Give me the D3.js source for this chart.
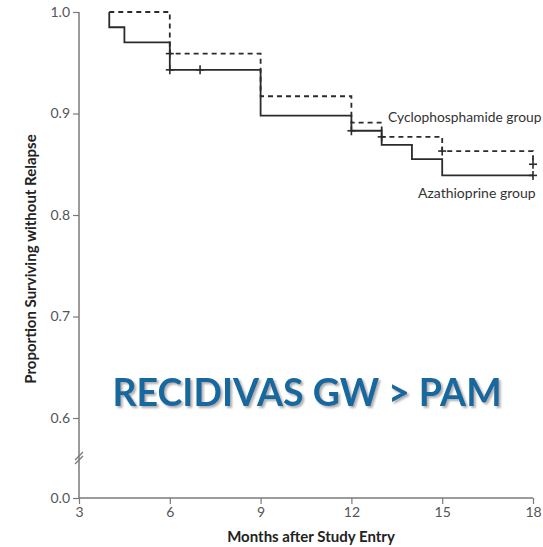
<!DOCTYPE html>
<html>
<head>
<meta charset="utf-8">
<script src="https://cdn.jsdelivr.net/npm/d3@7"></script>
<style>
  body { margin: 0; background: #fff; }
  svg text { font-family: Lato, "Open Sans", sans-serif; }
</style>
</head>
<body>
<div id="chart"></div>
<script>
// Kaplan-Meier step data (month of step, proportion after the step)
const azaMonths = [4, 4, 4.5, 6, 9, 12, 13, 14, 15, 18];
const azaValues = [1.0, 0.985, 0.970, 0.943, 0.898, 0.883, 0.869, 0.855, 0.839, 0.839];
const cycMonths = [4, 6, 9, 12, 13, 15, 18];
const cycValues = [1.0, 0.959, 0.917, 0.891, 0.877, 0.863, 0.850];

// censored observations
const azaCensorMonths = [6, 7, 12, 18];
const azaCensorValues = [0.943, 0.943, 0.883, 0.839];
const cycCensorMonths = [6, 13, 15, 18];
const cycCensorValues = [0.959, 0.877, 0.863, 0.850];

const xTicks = [3, 6, 9, 12, 15, 18];
const yTicks = [0.0, 0.6, 0.7, 0.8, 0.9, 1.0];

let width = 543;
let height = 547;

const svg = d3.select("#chart")
  .append("svg")
  .attr("width", width)
  .attr("height", height);

// soft shadow for the overlay title
svg.append("defs")
  .append("filter")
  .attr("id", "shadow")
  .attr("x", "-5%").attr("y", "-20%")
  .attr("width", "110%").attr("height", "140%")
  .append("feDropShadow")
  .attr("dx", 2).attr("dy", 2)
  .attr("stdDeviation", 0.8)
  .attr("flood-color", "#9a9a9a")
  .attr("flood-opacity", 0.8);

const x = d3.scaleLinear()
  .domain([3, 18])
  .range([79, 533]);

// broken axis: 0.0 sits below the break, 0.6-1.0 above it
const y = d3.scaleLinear()
  .domain([0, 0.6, 1.0])
  .range([498, 418, 12]);

const axisColor = "#7a7a7a";
const lineColor = "#2b2b2b";

// X axis
const xAxis = svg.append("g")
  .attr("transform", `translate(0, ${y(0)})`)
  .call(d3.axisBottom(x).tickValues(xTicks).tickSize(6).tickPadding(3).tickFormat(d3.format("d")));

// Y axis
const yAxis = svg.append("g")
  .attr("transform", `translate(${x(3)}, 0)`)
  .call(d3.axisLeft(y).tickValues(yTicks).tickSize(6).tickPadding(3).tickFormat(d3.format(".1f")));

[xAxis, yAxis].forEach(g => {
  g.select(".domain").attr("stroke", axisColor).attr("stroke-width", 1.5);
  g.selectAll(".tick line").attr("stroke", axisColor).attr("stroke-width", 1.2);
  g.selectAll(".tick text")
    .attr("fill", "#555")
    .style("font-size", "14px");
});
yAxis.select(".domain").attr("d", `M0,${y(1)}V${y(0)}`);
xAxis.select(".domain").attr("d", `M${x(3)},0H${x(18)}`);

// axis break marks
const breakY = (y(0) + y(0.6)) / 2;
[-2, 2].forEach(off => {
  svg.append("line")
    .attr("x1", x(3) - 4).attr("y1", breakY + off + 4)
    .attr("x2", x(3) + 4).attr("y2", breakY + off - 4)
    .attr("stroke", axisColor)
    .attr("stroke-width", 1.2);
});

// axis titles
svg.append("text")
  .attr("x", 311)
  .attr("y", 542)
  .attr("text-anchor", "middle")
  .attr("fill", "#222")
  .style("font-size", "15px")
  .style("font-weight", "bold")
  .text("Months after Study Entry");

svg.append("text")
  .attr("transform", "translate(36, 259) rotate(-90)")
  .attr("text-anchor", "middle")
  .attr("fill", "#222")
  .style("font-size", "15px")
  .style("font-weight", "bold")
  .text("Proportion Surviving without Relapse");

// step curves
const line = d3.line()
  .x(d => x(d[0]))
  .y(d => y(d[1]))
  .curve(d3.curveStepAfter);

svg.append("path")
  .datum(d3.zip(cycMonths, cycValues))
  .attr("fill", "none")
  .attr("stroke", lineColor)
  .attr("stroke-width", 1.8)
  .attr("stroke-dasharray", "5,4")
  .attr("d", line);

svg.append("path")
  .datum(d3.zip(azaMonths, azaValues))
  .attr("fill", "none")
  .attr("stroke", lineColor)
  .attr("stroke-width", 1.8)
  .attr("d", line);

// censor marks
const censors = d3.zip(azaCensorMonths, azaCensorValues).concat(d3.zip(cycCensorMonths, cycCensorValues));
const marks = svg.selectAll("g.censor")
  .data(censors)
  .enter()
  .append("g")
  .attr("class", "censor")
  .attr("transform", d => `translate(${x(d[0])}, ${y(d[1])})`);
marks.append("line")
  .attr("x1", 0).attr("x2", 0).attr("y1", -4.5).attr("y2", 4.5)
  .attr("stroke", lineColor).attr("stroke-width", 1.6);
marks.append("line")
  .attr("x1", -4).attr("x2", 4).attr("y1", 0).attr("y2", 0)
  .attr("stroke", lineColor).attr("stroke-width", 1.6);

// group labels
svg.append("text")
  .attr("x", 388)
  .attr("y", 122)
  .attr("fill", "#333")
  .style("font-size", "13.8px")
  .text("Cyclophosphamide group");

svg.append("text")
  .attr("x", 418)
  .attr("y", 198)
  .attr("fill", "#333")
  .style("font-size", "14px")
  .text("Azathioprine group");

// overlay title
svg.append("text")
  .attr("x", 307)
  .attr("y", 406)
  .attr("text-anchor", "middle")
  .attr("fill", "#12679f")
  .attr("filter", "url(#shadow)")
  .style("font-size", "37.5px")
  .style("font-weight", "bold")
  .text("RECIDIVAS GW > PAM");
</script>
</body>
</html>
